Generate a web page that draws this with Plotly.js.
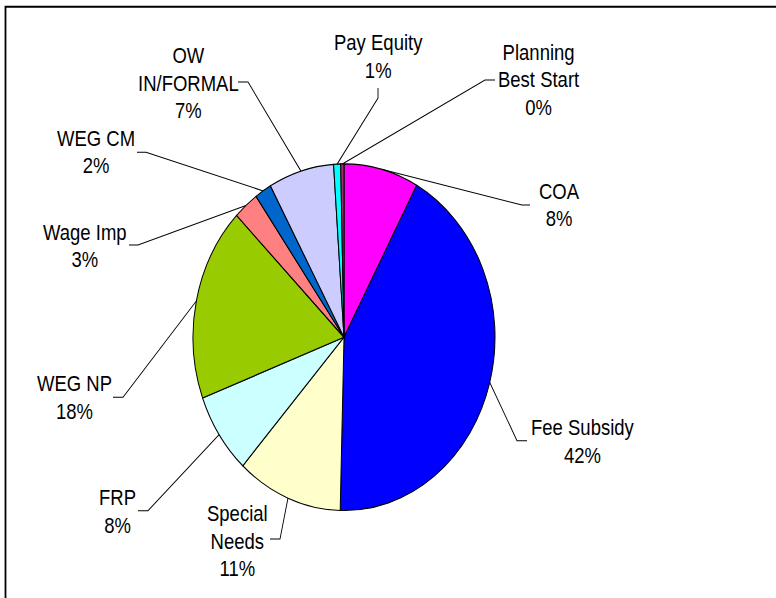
<!DOCTYPE html>
<html>
<head>
<meta charset="utf-8">
<script src="https://cdn.plot.ly/plotly-3.0.1.min.js"></script>
<style>
  html, body { margin: 0; padding: 0; background: #fff; overflow: hidden; }
  #wrap { width: 776px; height: 598px; overflow: hidden; }
  #chart { width: 776px; height: 521px; transform: scaleY(1.1478); transform-origin: 0 0; }
</style>
</head>
<body>
<div id="wrap"><div id="chart"></div></div>
<script>
// ---- data ----
var categories = ['COA', 'Fee Subsidy', 'Special Needs', 'FRP', 'WEG NP', 'Wage Imp', 'WEG CM', 'OW IN/FORMAL', 'Pay Equity', 'Planning Best Start'];
var displayLabels = ['COA', 'Fee Subsidy', 'Special<br>Needs', 'FRP', 'WEG NP', 'Wage Imp', 'WEG CM', 'OW<br>IN/FORMAL', 'Pay Equity', 'Planning<br>Best Start'];
var shares = [8.0, 42.4, 11.3, 7.6, 18.1, 2.7, 1.8, 7.0, 0.75, 0.35];
var sliceColors = ['#FF00FF', '#0000FF', '#FFFFCC', '#CCFFFF', '#99CC00', '#FF8080', '#0066CC', '#CCCCFF', '#00FFFF', '#993366'];

// ---- layout (reference pixel positions, before vertical stretch) ----
var W = 776, H = 521, S = 1.1478;
var textX   = [559, 583, 237, 117, 74, 85, 96, 188, 378, 538];
var textY   = [205, 441.7, 540.7, 511, 397.5, 246, 152.5, 83, 56.5, 80];
var elbowX  = [522, 517, 280, 148, 123, 138, 146, 248, 378, 485];
var elbowY  = [205, 440.7, 539, 510.7, 397.3, 245, 152.3, 82, 98, 80];
var endX    = [530, 527, 270, 138, 113, 129, 137, 238, 378, 495];
var endY    = [205, 440.7, 539, 510.7, 397.3, 245, 152.3, 82, 88, 80];
var pieCX = 344, pieCY = 293.8, pieR = 151;

function px(x) { return x / W; }
function py(yRef) { return 1 - (yRef / S) / H; }
function pyU(yU) { return 1 - yU / H; }

var total = shares.reduce(function (a, b) { return a + b; }, 0);
var pctText = shares.map(function (v) { return Math.round(v / total * 100) + '%'; });

var annotations = [];
var shapes = [];
var cum = 0;
for (var i = 0; i < shares.length; i++) {
  var mid = (cum + shares[i] / 2) / total * 2 * Math.PI;
  cum += shares[i];
  var ex = pieCX + pieR * Math.sin(mid);
  var ey = pieCY - pieR * Math.cos(mid);
  annotations.push({
    xref: 'paper', yref: 'paper', x: px(textX[i]), y: py(textY[i]),
    xanchor: 'center', yanchor: 'middle', showarrow: false, align: 'center',
    text: displayLabels[i] + '<br>' + pctText[i],
    font: { family: '"Liberation Sans", Arial, sans-serif', size: 18.5, color: '#000' }
  });
  shapes.push({
    type: 'path', xref: 'paper', yref: 'paper', layer: 'above',
    path: 'M' + px(ex) + ',' + pyU(ey) + ' L' + px(elbowX[i]) + ',' + py(elbowY[i]) + ' L' + px(endX[i]) + ',' + py(endY[i]),
    line: { color: '#000', width: 0.9 }
  });
}
// outer frame
shapes.push({
  type: 'rect', xref: 'paper', yref: 'paper', layer: 'above',
  x0: px(5.5), x1: 1.05, y0: -0.05, y1: py(6.8),
  line: { color: '#000', width: 1.8 }, fillcolor: 'rgba(0,0,0,0)'
});

var trace = {
  type: 'pie',
  labels: categories,
  values: shares,
  sort: false,
  direction: 'clockwise',
  rotation: 0,
  textinfo: 'none',
  hoverinfo: 'label+percent',
  marker: { colors: sliceColors, line: { color: '#000', width: 1 } },
  domain: { x: [px(pieCX - pieR), px(pieCX + pieR)], y: [pyU(pieCY + pieR), pyU(pieCY - pieR)] },
  showlegend: false
};

var layout = {
  width: W, height: H,
  margin: { l: 0, r: 0, t: 0, b: 0 },
  paper_bgcolor: '#fff', plot_bgcolor: '#fff',
  showlegend: false,
  annotations: annotations,
  shapes: shapes
};

Plotly.newPlot('chart', [trace], layout, { displayModeBar: false, staticPlot: true });
</script>
</body>
</html>
